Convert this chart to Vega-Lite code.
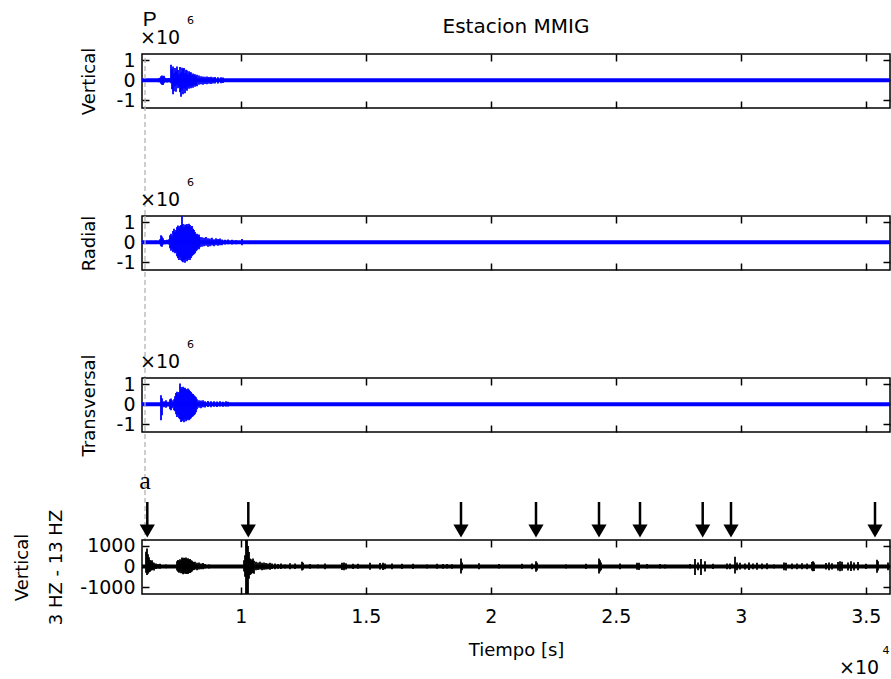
{
  "$schema": "https://vega.github.io/schema/vega-lite/v6.json",
  "padding": {"left": 13, "top": 8, "right": 0, "bottom": 0},
  "bounds": "flush",
  "spacing": 108,
  "config": {
    "view": {"stroke": "black", "strokeWidth": 1.5},
    "font": "DejaVu Sans",
    "axis": {"domain": false, "grid": false, "ticks": true, "tickColor": "black", "tickWidth": 1.5, "tickSize": -7,
      "labelFont": "DejaVu Sans", "labelFontSize": 19, "labelColor": "black", "labelPadding": 14,
      "titleFont": "DejaVu Sans", "titleFontSize": 18, "titleFontWeight": "normal", "titleColor": "black", "titlePadding": 18}
  },
  "datasets": {
    "vert": [
      {"t":6730,"hi":100000,"lo":-100000},{"t":6770,"hi":120000,"lo":-80000},{"t":6810,"hi":200000,"lo":-180000},{"t":6850,"hi":230000,"lo":-220000},{"t":6890,"hi":180000,"lo":-240000},{"t":6930,"hi":220000,"lo":-150000},{"t":6970,"hi":120000,"lo":-100000},{"t":7050,"hi":100000,"lo":-120000},{"t":7130,"hi":110000,"lo":-100000},{"t":7210,"hi":770000,"lo":-150000},{"t":7250,"hi":550000,"lo":-450000},{"t":7290,"hi":680000,"lo":-700000},{"t":7330,"hi":350000,"lo":-550000},{"t":7370,"hi":600000,"lo":-300000},{"t":7410,"hi":450000,"lo":-570000},{"t":7450,"hi":680000,"lo":-250000},{"t":7490,"hi":500000,"lo":-400000},{"t":7530,"hi":300000,"lo":-350000},{"t":7570,"hi":650000,"lo":-600000},{"t":7610,"hi":400000,"lo":-820000},{"t":7650,"hi":620000,"lo":-500000},{"t":7690,"hi":550000,"lo":-700000},{"t":7730,"hi":600000,"lo":-400000},{"t":7770,"hi":350000,"lo":-650000},{"t":7810,"hi":520000,"lo":-450000},{"t":7850,"hi":480000,"lo":-530000},{"t":7890,"hi":300000,"lo":-350000},{"t":7930,"hi":450000,"lo":-430000},{"t":7970,"hi":380000,"lo":-300000},{"t":8010,"hi":400000,"lo":-400000},{"t":8050,"hi":250000,"lo":-300000},{"t":8090,"hi":330000,"lo":-370000},{"t":8130,"hi":280000,"lo":-250000},{"t":8170,"hi":300000,"lo":-330000},{"t":8210,"hi":200000,"lo":-250000},{"t":8250,"hi":270000,"lo":-300000},{"t":8330,"hi":230000,"lo":-230000},{"t":8410,"hi":200000,"lo":-200000},{"t":8490,"hi":180000,"lo":-220000},{"t":8570,"hi":170000,"lo":-190000},{"t":8650,"hi":180000,"lo":-200000},{"t":8730,"hi":160000,"lo":-180000},{"t":8810,"hi":170000,"lo":-190000},{"t":8890,"hi":140000,"lo":-160000},{"t":8970,"hi":160000,"lo":-170000},{"t":9090,"hi":140000,"lo":-160000},{"t":9210,"hi":150000,"lo":-150000},{"t":9290,"hi":130000,"lo":-140000}
    ],
    "rad": [
      {"t":6370,"hi":60000,"lo":-60000},{"t":6610,"hi":70000,"lo":-60000},{"t":6770,"hi":150000,"lo":-100000},{"t":6810,"hi":340000,"lo":-200000},{"t":6850,"hi":280000,"lo":-230000},{"t":6890,"hi":200000,"lo":-120000},{"t":6970,"hi":100000,"lo":-100000},{"t":7050,"hi":120000,"lo":-80000},{"t":7130,"hi":150000,"lo":-120000},{"t":7170,"hi":350000,"lo":-300000},{"t":7210,"hi":420000,"lo":-420000},{"t":7250,"hi":300000,"lo":-350000},{"t":7290,"hi":550000,"lo":-500000},{"t":7330,"hi":670000,"lo":-450000},{"t":7370,"hi":500000,"lo":-550000},{"t":7410,"hi":600000,"lo":-500000},{"t":7450,"hi":750000,"lo":-700000},{"t":7490,"hi":830000,"lo":-800000},{"t":7530,"hi":700000,"lo":-880000},{"t":7570,"hi":800000,"lo":-750000},{"t":7610,"hi":850000,"lo":-900000},{"t":7650,"hi":1300000,"lo":-950000},{"t":7690,"hi":900000,"lo":-1000000},{"t":7730,"hi":750000,"lo":-900000},{"t":7770,"hi":880000,"lo":-1020000},{"t":7810,"hi":850000,"lo":-850000},{"t":7850,"hi":900000,"lo":-950000},{"t":7890,"hi":800000,"lo":-880000},{"t":7930,"hi":920000,"lo":-800000},{"t":7970,"hi":850000,"lo":-880000},{"t":8010,"hi":750000,"lo":-780000},{"t":8050,"hi":800000,"lo":-700000},{"t":8090,"hi":670000,"lo":-630000},{"t":8130,"hi":600000,"lo":-600000},{"t":8170,"hi":500000,"lo":-550000},{"t":8210,"hi":400000,"lo":-450000},{"t":8250,"hi":420000,"lo":-400000},{"t":8290,"hi":350000,"lo":-300000},{"t":8330,"hi":380000,"lo":-350000},{"t":8370,"hi":260000,"lo":-250000},{"t":8450,"hi":250000,"lo":-230000},{"t":8530,"hi":220000,"lo":-200000},{"t":8610,"hi":260000,"lo":-180000},{"t":8690,"hi":200000,"lo":-220000},{"t":8770,"hi":180000,"lo":-200000},{"t":8850,"hi":220000,"lo":-170000},{"t":8930,"hi":150000,"lo":-200000},{"t":9010,"hi":200000,"lo":-150000},{"t":9090,"hi":160000,"lo":-180000},{"t":9170,"hi":180000,"lo":-150000},{"t":9250,"hi":130000,"lo":-150000},{"t":9370,"hi":120000,"lo":-120000},{"t":9490,"hi":130000,"lo":-100000},{"t":9650,"hi":120000,"lo":-120000},{"t":9810,"hi":100000,"lo":-100000},{"t":10050,"hi":160000,"lo":-150000}
    ],
    "trans": [
      {"t":6810,"hi":450000,"lo":-800000},{"t":6850,"hi":300000,"lo":-550000},{"t":6930,"hi":150000,"lo":-150000},{"t":7010,"hi":200000,"lo":-180000},{"t":7090,"hi":120000,"lo":-120000},{"t":7170,"hi":250000,"lo":-250000},{"t":7210,"hi":280000,"lo":-300000},{"t":7250,"hi":200000,"lo":-200000},{"t":7330,"hi":250000,"lo":-300000},{"t":7370,"hi":400000,"lo":-350000},{"t":7410,"hi":550000,"lo":-500000},{"t":7450,"hi":620000,"lo":-630000},{"t":7490,"hi":500000,"lo":-550000},{"t":7530,"hi":600000,"lo":-700000},{"t":7570,"hi":1030000,"lo":-750000},{"t":7610,"hi":850000,"lo":-880000},{"t":7650,"hi":750000,"lo":-850000},{"t":7690,"hi":870000,"lo":-800000},{"t":7730,"hi":800000,"lo":-900000},{"t":7770,"hi":820000,"lo":-750000},{"t":7810,"hi":750000,"lo":-850000},{"t":7850,"hi":700000,"lo":-800000},{"t":7890,"hi":780000,"lo":-720000},{"t":7930,"hi":720000,"lo":-800000},{"t":7970,"hi":650000,"lo":-750000},{"t":8010,"hi":600000,"lo":-700000},{"t":8050,"hi":530000,"lo":-630000},{"t":8090,"hi":500000,"lo":-600000},{"t":8130,"hi":450000,"lo":-550000},{"t":8170,"hi":400000,"lo":-500000},{"t":8210,"hi":350000,"lo":-400000},{"t":8250,"hi":250000,"lo":-250000},{"t":8330,"hi":200000,"lo":-180000},{"t":8410,"hi":180000,"lo":-200000},{"t":8490,"hi":200000,"lo":-150000},{"t":8570,"hi":150000,"lo":-160000},{"t":8690,"hi":160000,"lo":-140000},{"t":8810,"hi":140000,"lo":-150000},{"t":8930,"hi":150000,"lo":-130000},{"t":9050,"hi":130000,"lo":-140000},{"t":9170,"hi":140000,"lo":-120000},{"t":9290,"hi":120000,"lo":-130000},{"t":9410,"hi":140000,"lo":-120000},{"t":9490,"hi":120000,"lo":-120000}
    ],
    "filt": [
      {"t":6210,"hi":715,"lo":-300},{"t":6250,"hi":880,"lo":-420},{"t":6290,"hi":600,"lo":-350},{"t":6330,"hi":450,"lo":-280},{"t":6370,"hi":310,"lo":-260},{"t":6410,"hi":250,"lo":-200},{"t":6450,"hi":300,"lo":-180},{"t":6490,"hi":200,"lo":-150},{"t":6530,"hi":180,"lo":-200},{"t":6610,"hi":150,"lo":-120},{"t":6690,"hi":120,"lo":-100},{"t":6770,"hi":130,"lo":-110},{"t":7010,"hi":100,"lo":-90},
      {"t":7450,"hi":250,"lo":-200},{"t":7490,"hi":310,"lo":-260},{"t":7530,"hi":280,"lo":-300},{"t":7570,"hi":350,"lo":-250},{"t":7610,"hi":300,"lo":-330},{"t":7650,"hi":440,"lo":-300},{"t":7690,"hi":380,"lo":-375},{"t":7730,"hi":420,"lo":-350},{"t":7770,"hi":400,"lo":-300},{"t":7810,"hi":440,"lo":-360},{"t":7850,"hi":350,"lo":-330},{"t":7890,"hi":400,"lo":-370},{"t":7930,"hi":330,"lo":-300},{"t":7970,"hi":360,"lo":-320},{"t":8010,"hi":300,"lo":-280},{"t":8050,"hi":280,"lo":-250},{"t":8090,"hi":230,"lo":-180},{"t":8130,"hi":200,"lo":-170},{"t":8170,"hi":230,"lo":-150},{"t":8250,"hi":180,"lo":-180},{"t":8330,"hi":200,"lo":-150},{"t":8410,"hi":150,"lo":-130},{"t":8490,"hi":170,"lo":-140},{"t":8570,"hi":120,"lo":-100},{"t":8730,"hi":100,"lo":-100},
      {"t":10130,"hi":300,"lo":-250},{"t":10170,"hi":550,"lo":-500},{"t":10210,"hi":1400,"lo":-1400},{"t":10250,"hi":1400,"lo":-1400},{"t":10290,"hi":1000,"lo":-1400},{"t":10330,"hi":700,"lo":-600},{"t":10370,"hi":390,"lo":-420},{"t":10410,"hi":350,"lo":-380},{"t":10450,"hi":300,"lo":-330},{"t":10490,"hi":390,"lo":-300},{"t":10530,"hi":280,"lo":-350},{"t":10610,"hi":230,"lo":-180},{"t":10690,"hi":200,"lo":-170},{"t":10770,"hi":230,"lo":-150},{"t":10850,"hi":180,"lo":-180},{"t":10930,"hi":200,"lo":-160},{"t":11010,"hi":170,"lo":-150},{"t":11090,"hi":150,"lo":-130},{"t":11170,"hi":180,"lo":-160},{"t":11250,"hi":140,"lo":-120},{"t":11370,"hi":150,"lo":-130},{"t":11490,"hi":120,"lo":-110},{"t":11610,"hi":140,"lo":-120},{"t":11770,"hi":100,"lo":-100},{"t":11970,"hi":160,"lo":-140},{"t":12170,"hi":150,"lo":-120},{"t":12450,"hi":230,"lo":-200},{"t":12490,"hi":180,"lo":-160},{"t":12770,"hi":120,"lo":-110},{"t":13090,"hi":100,"lo":-90},{"t":13370,"hi":150,"lo":-130},{"t":14050,"hi":180,"lo":-170},{"t":14130,"hi":200,"lo":-180},{"t":14210,"hi":160,"lo":-150},{"t":14490,"hi":130,"lo":-120},{"t":14690,"hi":130,"lo":-110},{"t":15170,"hi":180,"lo":-160},{"t":15570,"hi":170,"lo":-150},{"t":15690,"hi":180,"lo":-170},{"t":15770,"hi":150,"lo":-140},{"t":16050,"hi":150,"lo":-140},{"t":16450,"hi":130,"lo":-120},{"t":16890,"hi":130,"lo":-120},{"t":17450,"hi":100,"lo":-100},{"t":17850,"hi":130,"lo":-110},{"t":18090,"hi":120,"lo":-110},{"t":18250,"hi":120,"lo":-100},{"t":18450,"hi":110,"lo":-110},{"t":18810,"hi":390,"lo":-340},{"t":18850,"hi":200,"lo":-180},{"t":19530,"hi":160,"lo":-140},{"t":20330,"hi":120,"lo":-100},{"t":21250,"hi":130,"lo":-110},{"t":21650,"hi":150,"lo":-130},{"t":21810,"hi":260,"lo":-260},{"t":21850,"hi":180,"lo":-200},{"t":23010,"hi":100,"lo":-100},{"t":23810,"hi":130,"lo":-120},{"t":24330,"hi":390,"lo":-340},{"t":24370,"hi":300,"lo":-250},{"t":24410,"hi":200,"lo":-180},{"t":25170,"hi":150,"lo":-130},{"t":25850,"hi":180,"lo":-160},{"t":25930,"hi":180,"lo":-170},{"t":26250,"hi":120,"lo":-100},{"t":26770,"hi":120,"lo":-100},{"t":26970,"hi":100,"lo":-100},{"t":27970,"hi":120,"lo":-100},{"t":28170,"hi":360,"lo":-420},{"t":28290,"hi":200,"lo":-180},{"t":28410,"hi":360,"lo":-420},{"t":28570,"hi":250,"lo":-250},{"t":28890,"hi":130,"lo":-120},{"t":29450,"hi":150,"lo":-130},{"t":29570,"hi":150,"lo":-140},{"t":29770,"hi":470,"lo":-340},{"t":29850,"hi":200,"lo":-180},{"t":29970,"hi":180,"lo":-150},{"t":30170,"hi":150,"lo":-150},{"t":30330,"hi":200,"lo":-170},{"t":30490,"hi":150,"lo":-130},{"t":30650,"hi":180,"lo":-160},{"t":30850,"hi":150,"lo":-140},{"t":31050,"hi":160,"lo":-130},{"t":31330,"hi":100,"lo":-100},{"t":31730,"hi":200,"lo":-180},{"t":31810,"hi":180,"lo":-200},{"t":32050,"hi":150,"lo":-130},{"t":32250,"hi":150,"lo":-140},{"t":32450,"hi":160,"lo":-130},{"t":32650,"hi":150,"lo":-140},{"t":32850,"hi":220,"lo":-200},{"t":32890,"hi":250,"lo":-230},{"t":32930,"hi":200,"lo":-220},{"t":33410,"hi":170,"lo":-150},{"t":33530,"hi":200,"lo":-180},{"t":33650,"hi":160,"lo":-150},{"t":33890,"hi":220,"lo":-200},{"t":33970,"hi":250,"lo":-230},{"t":34050,"hi":230,"lo":-210},{"t":34290,"hi":200,"lo":-190},{"t":34410,"hi":250,"lo":-220},{"t":34530,"hi":200,"lo":-200},{"t":34690,"hi":220,"lo":-180},{"t":35010,"hi":130,"lo":-120},{"t":35450,"hi":330,"lo":-300},{"t":35490,"hi":250,"lo":-200},{"t":35890,"hi":200,"lo":-180}
    ],
    "arrows": [
      {"t":6262},{"t":10302},{"t":18810},{"t":21810},{"t":24330},{"t":25970},{"t":28478},{"t":29610},{"t":35370}
    ],
    "pick": [{"t": 6170, "phase": "P"}]
  },
  "vconcat": [
    {
      "width": 748, "height": 54,
      "layer": [
        {"data": {"name": "vert"}, "mark": {"type": "rule", "color": "#0000ff", "strokeWidth": 1.8, "clip": true},
         "encoding": {
           "x": {"field": "t", "type": "quantitative", "scale": {"domain": [6050, 35970], "nice": false, "zero": false}, "axis": {"orient": "bottom", "values": [10000,15000,20000,25000,30000,35000], "labels": false, "title": null}},
           "y": {"field": "hi", "type": "quantitative", "scale": {"domain": [-1380000, 1300000], "nice": false, "zero": false}, "axis": {"orient": "left", "values": [-1000000, 0, 1000000], "labelExpr": "toString(datum.value/1000000)", "title": "Vertical"}},
           "y2": {"field": "lo"}}},
        {"data": {"values": [{"trace": "Vertical"}]}, "mark": {"type": "rule", "color": "#0000ff", "strokeWidth": 4},
         "encoding": {"y": {"datum": 0, "type": "quantitative", "scale": {"domain": [-1380000, 1300000], "nice": false, "zero": false}, "axis": {"orient": "right", "values": [-1000000, 0, 1000000], "labels": false, "title": null}}}},
        {"data": {"name": "pick"}, "mark": {"type": "rule", "color": "#b4b4b4", "strokeWidth": 1.3, "strokeDash": [5, 3], "clip": false},
         "encoding": {
           "x": {"field": "t", "type": "quantitative", "scale": {"domain": [6050, 35970], "nice": false, "zero": false}, "axis": {"orient": "top", "values": [10000,15000,20000,25000,30000,35000], "labels": false, "title": null}},
           "y": {"datum": 1100000, "type": "quantitative", "axis": null},
           "y2": {"datum": -6800000}}},
        {"data": {"values": [{"label": "Estacion MMIG"}]}, "mark": {"type": "text", "font": "DejaVu Sans", "fontSize": 20, "align": "center", "baseline": "alphabetic", "color": "black", "clip": false},
         "encoding": {"x": {"datum": 21010, "type": "quantitative", "axis": null}, "y": {"datum": 2330000, "type": "quantitative", "axis": null}, "text": {"field": "label"}}},
        {"data": {"name": "pick"}, "mark": {"type": "text", "font": "Liberation Sans", "fontSize": 21, "align": "left", "baseline": "alphabetic", "color": "black", "clip": false},
         "encoding": {"x": {"datum": 6080, "type": "quantitative", "axis": null}, "y": {"datum": 2700000, "type": "quantitative", "axis": null}, "text": {"field": "phase"}}},
        {"data": {"values": [{"label": "×10"}]}, "mark": {"type": "text", "fontSize": 19, "align": "left", "baseline": "alphabetic", "color": "black", "clip": false},
         "encoding": {"x": {"datum": 5970, "type": "quantitative", "axis": null}, "y": {"datum": 1790000, "type": "quantitative", "axis": null}, "text": {"field": "label"}}},
        {"data": {"values": [{"label": "6"}]}, "mark": {"type": "text", "fontSize": 11, "align": "left", "baseline": "alphabetic", "color": "black", "clip": false},
         "encoding": {"x": {"datum": 7850, "type": "quantitative", "axis": null}, "y": {"datum": 2780000, "type": "quantitative", "axis": null}, "text": {"field": "label"}}}
      ],
      "resolve": {"axis": {"x": "independent", "y": "independent"}}
    },
    {
      "width": 748, "height": 54,
      "layer": [
        {"data": {"name": "rad"}, "mark": {"type": "rule", "color": "#0000ff", "strokeWidth": 1.8, "clip": true},
         "encoding": {
           "x": {"field": "t", "type": "quantitative", "scale": {"domain": [6050, 35970], "nice": false, "zero": false}, "axis": {"orient": "bottom", "values": [10000,15000,20000,25000,30000,35000], "labels": false, "title": null}},
           "y": {"field": "hi", "type": "quantitative", "scale": {"domain": [-1380000, 1300000], "nice": false, "zero": false}, "axis": {"orient": "left", "values": [-1000000, 0, 1000000], "labelExpr": "toString(datum.value/1000000)", "title": "Radial"}},
           "y2": {"field": "lo"}}},
        {"data": {"values": [{"trace": "Radial"}]}, "mark": {"type": "rule", "color": "#0000ff", "strokeWidth": 4},
         "encoding": {"y": {"datum": 0, "type": "quantitative", "scale": {"domain": [-1380000, 1300000], "nice": false, "zero": false}, "axis": {"orient": "right", "values": [-1000000, 0, 1000000], "labels": false, "title": null}}}},
        {"data": {"name": "pick"}, "mark": {"type": "rule", "color": "#b4b4b4", "strokeWidth": 1.3, "strokeDash": [5, 3], "clip": false},
         "encoding": {
           "x": {"field": "t", "type": "quantitative", "scale": {"domain": [6050, 35970], "nice": false, "zero": false}, "axis": {"orient": "top", "values": [10000,15000,20000,25000,30000,35000], "labels": false, "title": null}},
           "y": {"datum": 1300000, "type": "quantitative", "axis": null},
           "y2": {"datum": -6800000}}},
        {"data": {"values": [{"label": "×10"}]}, "mark": {"type": "text", "fontSize": 19, "align": "left", "baseline": "alphabetic", "color": "black", "clip": false},
         "encoding": {"x": {"datum": 5970, "type": "quantitative", "axis": null}, "y": {"datum": 1790000, "type": "quantitative", "axis": null}, "text": {"field": "label"}}},
        {"data": {"values": [{"label": "6"}]}, "mark": {"type": "text", "fontSize": 11, "align": "left", "baseline": "alphabetic", "color": "black", "clip": false},
         "encoding": {"x": {"datum": 7850, "type": "quantitative", "axis": null}, "y": {"datum": 2780000, "type": "quantitative", "axis": null}, "text": {"field": "label"}}}
      ],
      "resolve": {"axis": {"x": "independent", "y": "independent"}}
    },
    {
      "width": 748, "height": 54,
      "layer": [
        {"data": {"name": "trans"}, "mark": {"type": "rule", "color": "#0000ff", "strokeWidth": 1.8, "clip": true},
         "encoding": {
           "x": {"field": "t", "type": "quantitative", "scale": {"domain": [6050, 35970], "nice": false, "zero": false}, "axis": {"orient": "bottom", "values": [10000,15000,20000,25000,30000,35000], "labels": false, "title": null}},
           "y": {"field": "hi", "type": "quantitative", "scale": {"domain": [-1380000, 1300000], "nice": false, "zero": false}, "axis": {"orient": "left", "values": [-1000000, 0, 1000000], "labelExpr": "toString(datum.value/1000000)", "title": "Transversal"}},
           "y2": {"field": "lo"}}},
        {"data": {"values": [{"trace": "Transversal"}]}, "mark": {"type": "rule", "color": "#0000ff", "strokeWidth": 4},
         "encoding": {"y": {"datum": 0, "type": "quantitative", "scale": {"domain": [-1380000, 1300000], "nice": false, "zero": false}, "axis": {"orient": "right", "values": [-1000000, 0, 1000000], "labels": false, "title": null}}}},
        {"data": {"name": "pick"}, "mark": {"type": "rule", "color": "#b4b4b4", "strokeWidth": 1.3, "strokeDash": [5, 3], "clip": false},
         "encoding": {
           "x": {"field": "t", "type": "quantitative", "scale": {"domain": [6050, 35970], "nice": false, "zero": false}, "axis": {"orient": "top", "values": [10000,15000,20000,25000,30000,35000], "labels": false, "title": null}},
           "y": {"datum": 1300000, "type": "quantitative", "axis": null},
           "y2": {"datum": -6800000}}},
        {"data": {"values": [{"label": "×10"}]}, "mark": {"type": "text", "fontSize": 19, "align": "left", "baseline": "alphabetic", "color": "black", "clip": false},
         "encoding": {"x": {"datum": 5970, "type": "quantitative", "axis": null}, "y": {"datum": 1790000, "type": "quantitative", "axis": null}, "text": {"field": "label"}}},
        {"data": {"values": [{"label": "6"}]}, "mark": {"type": "text", "fontSize": 11, "align": "left", "baseline": "alphabetic", "color": "black", "clip": false},
         "encoding": {"x": {"datum": 7850, "type": "quantitative", "axis": null}, "y": {"datum": 2780000, "type": "quantitative", "axis": null}, "text": {"field": "label"}}}
      ],
      "resolve": {"axis": {"x": "independent", "y": "independent"}}
    },
    {
      "width": 748, "height": 54,
      "layer": [
        {"data": {"name": "filt"}, "mark": {"type": "rule", "color": "black", "strokeWidth": 1.8, "clip": true},
         "encoding": {
           "x": {"field": "t", "type": "quantitative", "scale": {"domain": [6050, 35970], "nice": false, "zero": false}, "axis": {"orient": "bottom", "values": [10000,15000,20000,25000,30000,35000], "labelExpr": "toString(datum.value/10000)", "labelPadding": 20, "title": "Tiempo [s]", "titlePadding": 15}},
           "y": {"field": "hi", "type": "quantitative", "scale": {"domain": [-1340, 1290], "nice": false, "zero": false}, "axis": {"orient": "left", "values": [-1000, 0, 1000], "labelExpr": "toString(datum.value)", "title": ["Vertical", "3 HZ - 13 HZ"], "titleLineHeight": 33.5, "titlePadding": 14.5}},
           "y2": {"field": "lo"}}},
        {"data": {"values": [{"trace": "Vertical 3-13 Hz"}]}, "mark": {"type": "rule", "color": "black", "strokeWidth": 4},
         "encoding": {"y": {"datum": 0, "type": "quantitative", "scale": {"domain": [-1340, 1290], "nice": false, "zero": false}, "axis": {"orient": "right", "values": [-1000, 0, 1000], "labels": false, "title": null}}}},
        {"data": {"name": "arrows"}, "mark": {"type": "rule", "color": "black", "strokeWidth": 2.5, "clip": false},
         "encoding": {
           "x": {"field": "t", "type": "quantitative", "scale": {"domain": [6050, 35970], "nice": false, "zero": false}, "axis": {"orient": "top", "values": [10000,15000,20000,25000,30000,35000], "labels": false, "title": null}},
           "y": {"datum": 3140, "type": "quantitative", "axis": null},
           "y2": {"datum": 1950}}},
        {"data": {"name": "arrows"}, "mark": {"type": "point", "shape": "triangle-down", "filled": true, "size": 230, "color": "black", "opacity": 1, "strokeWidth": 0, "clip": false},
         "encoding": {
           "x": {"field": "t", "type": "quantitative", "axis": null},
           "y": {"datum": 1730, "type": "quantitative", "axis": null}}},
        {"data": {"values": [{"label": "a"}]}, "mark": {"type": "text", "font": "Liberation Serif", "fontSize": 26, "align": "center", "baseline": "alphabetic", "color": "black", "clip": false},
         "encoding": {"x": {"datum": 6170, "type": "quantitative", "axis": null}, "y": {"datum": 3760, "type": "quantitative", "axis": null}, "text": {"field": "label"}}},
        {"data": {"values": [{"label": "×10"}]}, "mark": {"type": "text", "fontSize": 19, "align": "left", "baseline": "alphabetic", "color": "black", "clip": false},
         "encoding": {"x": {"datum": 33930, "type": "quantitative", "axis": null}, "y": {"datum": -5250, "type": "quantitative", "axis": null}, "text": {"field": "label"}}},
        {"data": {"values": [{"label": "4"}]}, "mark": {"type": "text", "fontSize": 11, "align": "right", "baseline": "alphabetic", "color": "black", "clip": false},
         "encoding": {"x": {"datum": 35950, "type": "quantitative", "axis": null}, "y": {"datum": -4260, "type": "quantitative", "axis": null}, "text": {"field": "label"}}}
      ],
      "resolve": {"axis": {"x": "independent", "y": "independent"}}
    }
  ]
}
